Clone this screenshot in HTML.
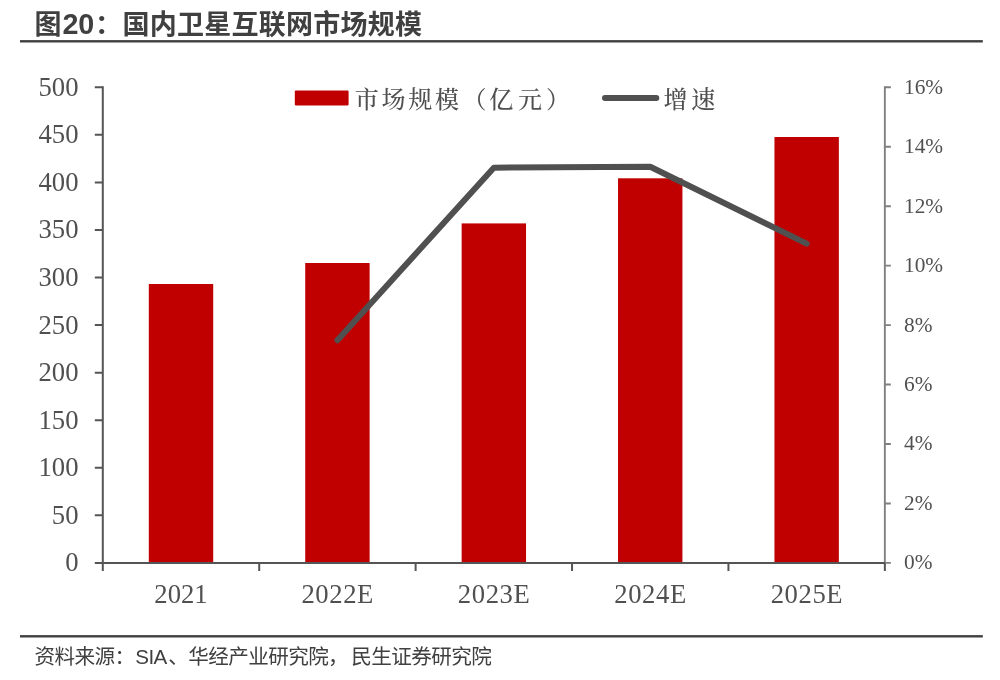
<!DOCTYPE html>
<html lang="zh-CN">
<head>
<meta charset="utf-8">
<title>图20：国内卫星互联网市场规模</title>
<style>
  html, body { margin: 0; padding: 0; background: #ffffff; }
  body { width: 1000px; height: 680px; overflow: hidden; position: relative; }
  svg { position: absolute; left: 0; top: 0; display: block; }
  .title { font-family: "Liberation Sans", "Noto Sans CJK SC", sans-serif; font-weight: 700; font-size: 27px; fill: #404040; }
  .src   { font-family: "Liberation Sans", "Noto Sans CJK SC", sans-serif; font-weight: 400; font-size: 20.6px; letter-spacing: -0.6px; fill: #404040; }
  .yl    { font-family: "Liberation Serif", serif; font-size: 26.67px; fill: #505050; text-anchor: end; }
  .yr    { font-family: "Liberation Serif", serif; font-size: 21.33px; fill: #505050; text-anchor: start; }
  .xl    { font-family: "Liberation Serif", serif; font-size: 26.67px; fill: #505050; text-anchor: middle; }
  .lg    { font-family: "Liberation Serif", "Noto Serif CJK SC", serif; font-size: 24px; font-weight: 500; fill: #505050; letter-spacing: 2.7px; }
</style>
</head>
<body>
<svg width="1000" height="680" viewBox="0 0 1000 680">
  <rect x="0" y="0" width="1000" height="680" fill="#ffffff"/>

  <!-- title, rules, source note -->
  <text class="title" x="34.6" y="34">图<tspan font-size="28.7" dx="0.8">20</tspan><tspan dx="0.8" letter-spacing="0.27">：国内卫星互联网市场规模</tspan></text>
  <rect x="20" y="40.1" width="962.8" height="2.4" fill="#404040"/>
  <rect x="20" y="635.1" width="962.8" height="2.4" fill="#404040"/>
  <text class="src" x="34.6" y="663.6">资料来源：<tspan dx="0.8">SIA</tspan><tspan dx="1.4">、华经产业研究院，</tspan><tspan dx="3.2">民生证券研究院</tspan></text>

  <!-- bars: 市场规模（亿元） -->
  <g fill="#c00000">
    <rect x="148.81" y="284" width="64.4" height="278.9"/>
    <rect x="305.22" y="263" width="64.4" height="299.9"/>
    <rect x="461.63" y="223.4" width="64.4" height="339.5"/>
    <rect x="618.03" y="178.3" width="64.4" height="384.6"/>
    <rect x="774.45" y="137" width="64.4" height="425.9"/>
  </g>

  <!-- right (secondary) axis -->
  <g stroke="#808080" stroke-width="1.9" fill="none">
    <path d="M884.85 86.3 V562.9"/>
    <path d="M884.85 87.3 H890.85 M884.85 146.75 H890.85 M884.85 206.2 H890.85 M884.85 265.65 H890.85 M884.85 325.1 H890.85 M884.85 384.55 H890.85 M884.85 444 H890.85 M884.85 503.45 H890.85 M884.85 562.9 H890.85"/>
  </g>
  <!-- left axis + category axis -->
  <g stroke="#555555" stroke-width="2" fill="none">
    <path d="M102.8 86.3 V562.9"/>
    <path d="M94.8 87.3 H102.8 M94.8 134.86 H102.8 M94.8 182.42 H102.8 M94.8 229.98 H102.8 M94.8 277.54 H102.8 M94.8 325.1 H102.8 M94.8 372.66 H102.8 M94.8 420.22 H102.8 M94.8 467.78 H102.8 M94.8 515.34 H102.8 M94.8 562.9 H102.8"/>
    <path d="M102.8 562.9 H884.85"/>
    <path d="M102.8 562.9 V570.9 M259.21 562.9 V570.9 M415.62 562.9 V570.9 M572.03 562.9 V570.9 M728.44 562.9 V570.9 M884.85 562.9 V570.9"/>
  </g>

  <!-- growth line: 增速 -->
  <polyline points="337.42,340.2 493.83,167.7 650.24,166.8 806.65,243.6" fill="none" stroke="#505050" stroke-width="6" stroke-linecap="round" stroke-linejoin="round"/>

  <!-- left axis labels -->
  <g class="yl">
    <text x="78.5" y="95.7">500</text>
    <text x="78.5" y="143.26">450</text>
    <text x="78.5" y="190.82">400</text>
    <text x="78.5" y="238.38">350</text>
    <text x="78.5" y="285.94">300</text>
    <text x="78.5" y="333.5">250</text>
    <text x="78.5" y="381.06">200</text>
    <text x="78.5" y="428.62">150</text>
    <text x="78.5" y="476.18">100</text>
    <text x="78.5" y="523.74">50</text>
    <text x="78.5" y="571.3">0</text>
  </g>
  <!-- right axis labels -->
  <g class="yr">
    <text x="904" y="93.7">16%</text>
    <text x="904" y="153.15">14%</text>
    <text x="904" y="212.6">12%</text>
    <text x="904" y="272.05">10%</text>
    <text x="904" y="331.5">8%</text>
    <text x="904" y="390.95">6%</text>
    <text x="904" y="450.4">4%</text>
    <text x="904" y="509.85">2%</text>
    <text x="904" y="569.3">0%</text>
  </g>
  <!-- category labels -->
  <g class="xl">
    <text x="181" y="602.6">2021</text>
    <text x="337.72" y="602.6" letter-spacing="0.6">2022E</text>
    <text x="494.13" y="602.6" letter-spacing="0.6">2023E</text>
    <text x="650.53" y="602.6" letter-spacing="0.6">2024E</text>
    <text x="806.95" y="602.6" letter-spacing="0.6">2025E</text>
  </g>

  <!-- legend -->
  <rect x="294.8" y="90.6" width="53.8" height="14.8" rx="0.8" fill="#c00000"/>
  <text class="lg" x="354.8" y="107.6">市场规模<tspan dx="1">（亿</tspan><tspan dx="2">元</tspan><tspan dx="1.2">）</tspan></text>
  <path d="M605 98 H656.3" stroke="#505050" stroke-width="6" stroke-linecap="round" fill="none"/>
  <text class="lg" x="663.5" y="107.6">增<tspan dx="1">速</tspan></text>
</svg>
</body>
</html>
